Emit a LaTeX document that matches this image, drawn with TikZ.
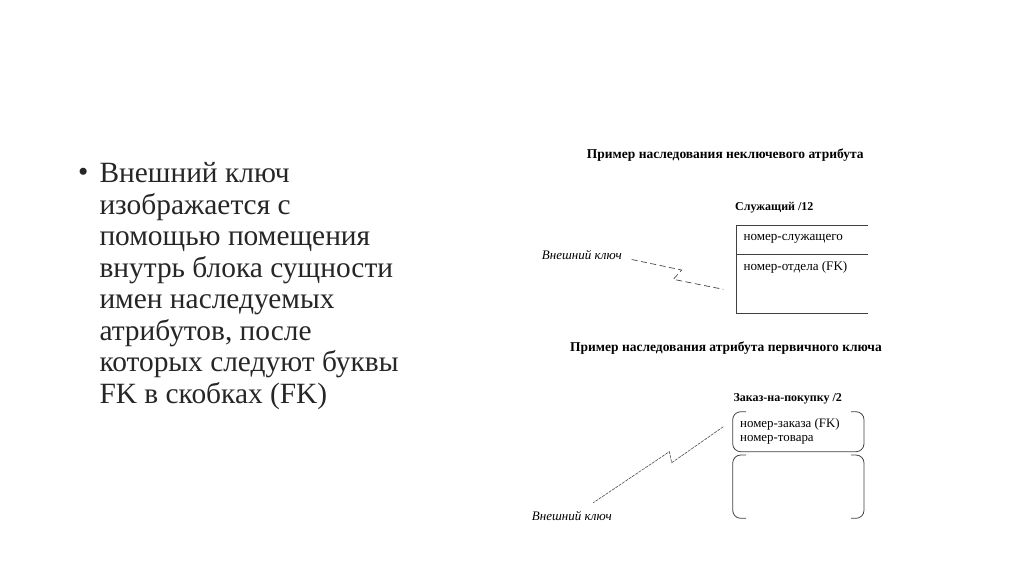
\documentclass[tikz,border=0pt]{standalone}
\usepackage{fontspec}
\setmainfont{Liberation Serif}
\begin{document}
\begin{tikzpicture}[x=1pt,y=-1pt,
  bodytext/.style={anchor=base west,inner sep=0pt,font=\fontsize{29.4}{31.5}\selectfont,text=black!85},
  dtitle/.style={anchor=west,inner sep=0pt,font=\fontsize{13.5}{15}\selectfont\bfseries},
  dentity/.style={anchor=west,inner sep=0pt,font=\fontsize{12}{14}\selectfont\bfseries},
  dattr/.style={anchor=west,inner sep=0pt,font=\fontsize{13.1}{14}\selectfont},
  dlabel/.style={anchor=west,inner sep=0pt,font=\fontsize{13}{15}\selectfont\itshape},
  boxline/.style={draw=black!75,line width=0.8pt},
  fkline/.style={draw=black!70,line width=0.7pt,dash pattern=on 6pt off 3.5pt},
  fkline2/.style={draw=black!70,line width=0.6pt,dash pattern=on 3pt off 1pt}]
\useasboundingbox (0,0) rectangle (1024,576);
% bullet text
\node[anchor=center,inner sep=0pt,font=\fontsize{29.4}{31.5}\selectfont,text=black!85] (bul) at (83.3,175) {•};
\foreach \t [count=\i] in {Внешний ключ,изображается с,помощью помещения,внутрь блока сущности,имен наследуемых,{атрибутов, после},которых следуют буквы,FK в скобках (FK)}{
  \node[bodytext] (l\i) at (99.3,{182.7+31.5*(\i-1)}) {\t};
}
% upper diagram
\node[dtitle] (t1) at (586.7,155) {Пример наследования неключевого атрибута};
\node[dentity] (e1) at (735,208) {Служащий /12};
\draw[boxline] (868,225.7) -- (736.7,225.7) -- (736.7,313.3) -- (868,313.3);
\draw[boxline] (736.7,254.3) -- (868,254.3);
\node[dattr] (a1) at (743.3,238.5) {номер-служащего};
\node[dattr] (a2) at (743.3,267) {номер-отдела (FK)};
\node[dlabel] (k1) at (541.7,255) {Внешний ключ};
\coordinate (p1) at (631.7,259.5);
\coordinate (p2) at (681.7,270);
\coordinate (p3) at (673.3,279.3);
\coordinate (p4) at (723.3,289.3);
\draw[fkline] (p1) -- (p2) -- (p3) -- (p4);
% lower diagram
\node[dtitle] (t2) at (570,348.3) {Пример наследования атрибута первичного ключа};
\node[dentity] (e2) at (733.3,399) {Заказ-на-покупку /2};
\draw[boxline,rounded corners=8pt] (746,411.7) -- (732.7,411.7) -- (732.7,451.7) -- (864,451.7) -- (864,411.7) -- (851,411.7);
\draw[boxline,rounded corners=8pt] (746,455) -- (732.7,455) -- (732.7,518.3) -- (746,518.3);
\draw[boxline,rounded corners=8pt] (851,455) -- (864,455) -- (864,518.3) -- (851,518.3);
\node[dattr,font=\fontsize{12.9}{14}\selectfont] (b1) at (740,424.3) {номер-заказа (FK)};
\node[dattr,font=\fontsize{12.9}{14}\selectfont] (b2) at (740,439.5) {номер-товара};
\node[dlabel] (k2) at (531.7,515.5) {Внешний ключ};
\coordinate (q1) at (723.3,426.7);
\coordinate (q2) at (671.7,462.7);
\coordinate (q3) at (669.3,451.7);
\coordinate (q4) at (593.3,502.7);
\draw[fkline2] (q1) -- (q2) -- (q3) -- (q4);
\end{tikzpicture}
\end{document}
